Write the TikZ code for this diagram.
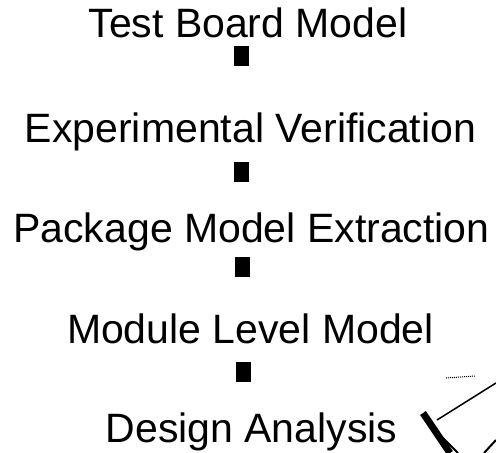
\documentclass[tikz,border=0pt]{standalone}
\usepackage{fontspec}
\setmainfont{Liberation Sans}
\tikzset{
  stage/.style={inner sep=0pt, anchor=base, font=\fontsize{41pt}{46pt}\selectfont},
  tick/.style={fill=black, inner sep=0pt, minimum width=15pt, minimum height=20pt}
}
\begin{document}
\begin{tikzpicture}[x=1pt, y=-1pt]
\useasboundingbox (0,0) rectangle (496,453);
\node[stage] (board) at (248,37) {Test Board Model};
\node[stage] (verif) at (250.5,142) {Experimental Verification};
\node[stage] (extract) at (251.5,242) {Package Model Extraction};
\node[stage] (module) at (250.5,343) {Module Level Model};
\node[stage] (design) at (251.5,442) {Design Analysis};
% marks between the stages
\node[tick] (t1) at (241,56) {};
\node[tick] (t2) at (241.5,172) {};
\node[tick] (t3) at (242.5,267) {};
\node[tick] (t4) at (243,372) {};
% loop back from the right, cut off at the edge
\coordinate (loopin) at (423,413);
\draw[line width=7pt] (loopin) -- (450,453);
\draw[line width=1.5pt] (437,420) -- (496,383);
\draw[line width=2pt] (433,428) -- (458,453);
\draw[line width=2pt] (496,440) -- (484,453);
\draw[line width=1pt, densely dotted] (446,378) -- (475,376);
\end{tikzpicture}
\end{document}
